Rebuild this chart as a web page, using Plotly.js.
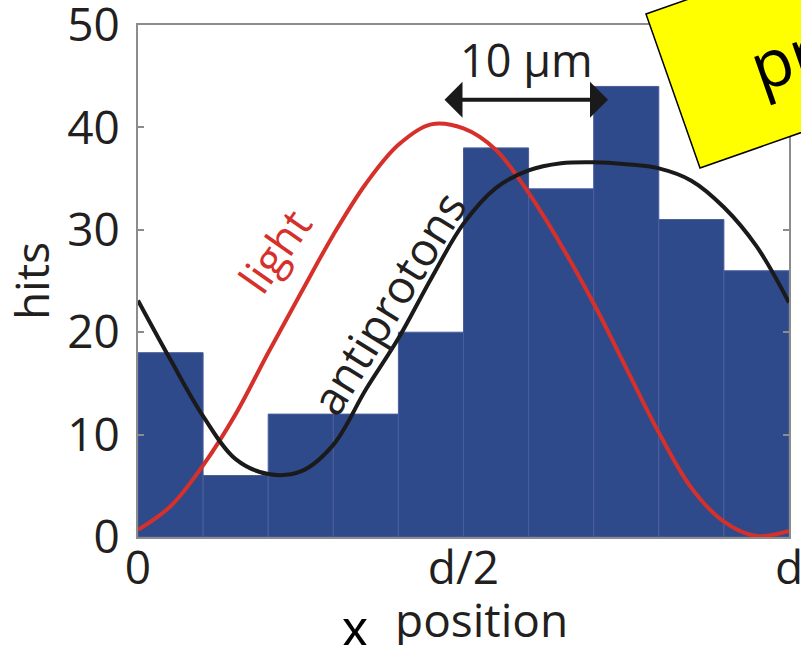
<!DOCTYPE html>
<html>
<head>
<meta charset="utf-8">
<script src="https://cdn.plot.ly/plotly-3.0.1.min.js"></script>
<style>
  html, body { margin: 0; padding: 0; background: #ffffff; }
  #chart { width: 801px; height: 645px; }
</style>
</head>
<body>
<div id="chart"></div>
<script>
// Antiproton hits per bin across one grating period d (x in units of d)
const binCenters = [0.05, 0.15, 0.25, 0.35, 0.45, 0.55, 0.65, 0.75, 0.85, 0.95];
const hits = [18, 6, 12, 12, 20, 38, 34, 44, 31, 26];

// Sampled positions across the period (units of d)
const sampleX = [0, 0.05, 0.1, 0.15, 0.2, 0.25, 0.3, 0.35, 0.4, 0.45, 0.5,
                 0.55, 0.6, 0.65, 0.7, 0.75, 0.8, 0.85, 0.9, 0.95, 1.0];

// Light intensity profile, scaled to hits
const lightY = [0.7, 3.0, 7.0, 12.0, 18.0, 23.8, 29.5, 34.5, 38.3, 40.3, 39.9,
                37.8, 33.6, 28.5, 22.8, 16.5, 10.2, 4.8, 1.5, 0.1, 0.6];

// Fitted antiproton profile
const antiprotonY = [23.1, 17.3, 11.8, 7.6, 6.15, 6.4, 9.0, 14.4, 19.4, 25.2, 30.6,
                     34.1, 35.8, 36.5, 36.6, 36.4, 36.0, 34.8, 32.2, 28.4, 22.9];

// Axis ticks
const xTickVals = [0, 0.5, 1];
const xTickText = ['0', 'd/2', 'd'];
const yTickVals = [0, 10, 20, 30, 40, 50];

const FONT = 'Open Sans, Noto Sans, sans-serif';
const INK = '#231f20';
const AXIS_GREY = '#8c8c8c';

const traces = [
  {
    type: 'bar',
    x: binCenters,
    y: hits,
    width: 0.1,
    marker: { color: '#2e4a8b', line: { color: '#4a5d9c', width: 1 } },
    hoverinfo: 'x+y'
  },
  {
    type: 'scatter',
    mode: 'lines',
    x: sampleX,
    y: lightY,
    line: { color: '#d6302b', width: 4, shape: 'spline', smoothing: 1 },
    name: 'light'
  },
  {
    type: 'scatter',
    mode: 'lines',
    x: sampleX,
    y: antiprotonY,
    line: { color: '#1a1a1a', width: 4, shape: 'spline', smoothing: 1 },
    name: 'antiprotons'
  }
];

const layout = {
  width: 801,
  height: 645,
  margin: { l: 138, r: 12, t: 25, b: 108 },
  paper_bgcolor: '#ffffff',
  plot_bgcolor: '#ffffff',
  showlegend: false,
  bargap: 0,
  font: { family: FONT, color: INK },
  xaxis: {
    range: [0, 1],
    tickmode: 'array',
    tickvals: xTickVals,
    ticktext: xTickText,
    ticks: '',
    showgrid: false,
    zeroline: false,
    showline: true,
    linecolor: AXIS_GREY,
    linewidth: 2,
    mirror: true,
    tickfont: { family: FONT, size: 46, color: INK },
    ticklabelstandoff: -10,
    ticklabeloverflow: 'allow',
    fixedrange: true
  },
  yaxis: {
    range: [0, 50],
    tickmode: 'array',
    tickvals: yTickVals,
    ticks: 'inside',
    ticklen: 6,
    tickwidth: 2,
    tickcolor: AXIS_GREY,
    showgrid: false,
    zeroline: false,
    showline: true,
    linecolor: AXIS_GREY,
    linewidth: 2,
    mirror: 'ticks',
    tickfont: { family: FONT, size: 46, color: INK },
    ticklabelstandoff: 7,
    ticklabeloverflow: 'allow',
    title: { text: 'hits', font: { family: FONT, size: 46, color: INK }, standoff: 6 },
    fixedrange: true
  },
  shapes: [
    {
      // tilted yellow label card in the top-right corner
      type: 'path',
      xref: 'paper',
      yref: 'paper',
      path: 'M 0.7803 1.0215 L 1.3602 1.2797 L 1.4432 0.9789 L 0.8633 0.7207 Z',
      fillcolor: '#ffff00',
      line: { color: '#000000', width: 1.5 },
      layer: 'above'
    }
  ],
  annotations: [
    {
      text: 'light',
      x: 0.2104, y: 28.0, xref: 'x', yref: 'y',
      xanchor: 'center', yanchor: 'middle',
      textangle: -55,
      showarrow: false,
      font: { family: FONT, size: 44, color: '#d6302b' }
    },
    {
      text: 'antiprotons',
      x: 0.3825, y: 22.9, xref: 'x', yref: 'y',
      xanchor: 'center', yanchor: 'middle',
      textangle: -58.5,
      showarrow: false,
      font: { family: FONT, size: 46, color: INK }
    },
    {
      text: '10 μm',
      x: 0.5975, y: 46.6, xref: 'x', yref: 'y',
      xanchor: 'center', yanchor: 'middle',
      showarrow: false,
      font: { family: FONT, size: 45, color: INK }
    },
    {
      // double-headed scale bar
      text: '',
      x: 0.722, y: 42.7, xref: 'x', yref: 'y',
      ax: 0.4685, ay: 42.7, axref: 'x', ayref: 'y',
      showarrow: true,
      arrowside: 'end+start',
      arrowhead: 1,
      startarrowhead: 1,
      arrowsize: 1.5,
      startarrowsize: 1.5,
      arrowwidth: 4,
      arrowcolor: '#1a1a1a',
      standoff: 0,
      startstandoff: 0
    },
    {
      text: 'preliminary',
      x: 1.2003, y: 1.0303, xref: 'paper', yref: 'paper',
      xanchor: 'center', yanchor: 'middle',
      textangle: -19.3,
      showarrow: false,
      font: { family: FONT, size: 66, color: '#000000' }
    },
    {
      text: 'position',
      x: 0.528, y: -0.160, xref: 'paper', yref: 'paper',
      xanchor: 'center', yanchor: 'middle',
      showarrow: false,
      font: { family: FONT, size: 46, color: INK }
    },
    {
      text: 'x',
      x: 0.3333, y: -0.178, xref: 'paper', yref: 'paper',
      xanchor: 'center', yanchor: 'middle',
      showarrow: false,
      font: { family: 'Liberation Sans, Arial, sans-serif', size: 52, color: '#000000' }
    }
  ]
};

Plotly.newPlot('chart', traces, layout, { displayModeBar: false, staticPlot: true });
</script>
</body>
</html>
